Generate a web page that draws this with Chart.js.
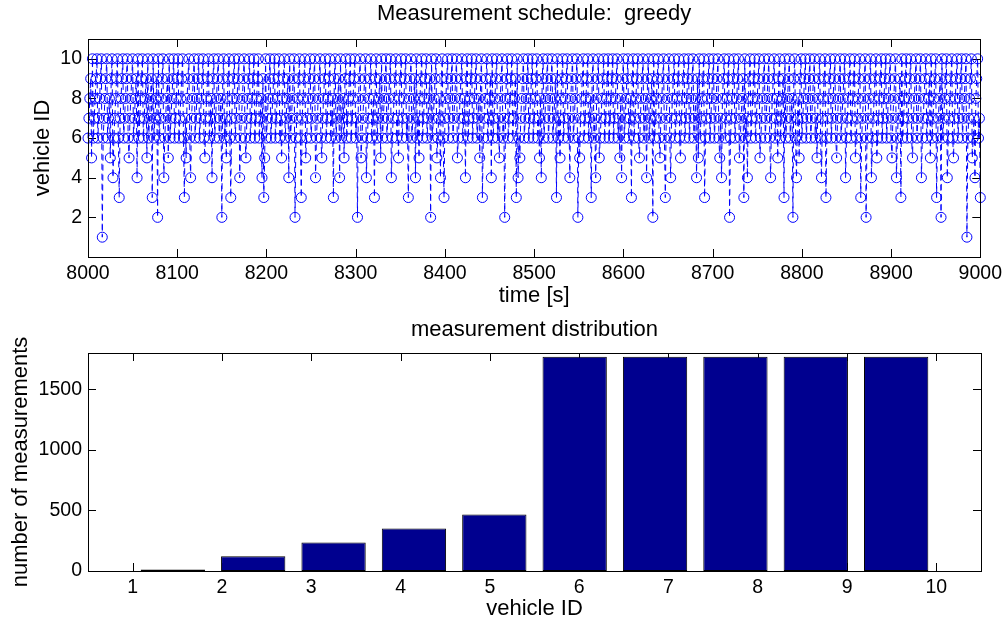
<!DOCTYPE html>
<html>
<head>
<meta charset="utf-8">
<script src="https://cdn.jsdelivr.net/npm/chart.js@4.4.1/dist/chart.umd.min.js"></script>
<style>
    html, body { margin: 0; padding: 0; background: #fff; }
    #wrap { position: relative; width: 1007px; height: 626px; }
    canvas { position: absolute; left: 0; }
    #schedule { top: 0; }
    #distribution { top: 313px; }
</style>
</head>
<body>
<div id="wrap">
    <canvas id="schedule" width="1007" height="313"></canvas>
    <canvas id="distribution" width="1007" height="313"></canvas>
</div>
<script>
Chart.defaults.font.family = "'Liberation Sans', Arial, Helvetica, sans-serif";
Chart.defaults.color = '#000';

// ---- top plot: who was measured at each second ----
const timeStart = 8000;
const timeEnd = 9000;
const timeTicks = [8000, 8100, 8200, 8300, 8400, 8500, 8600, 8700, 8800, 8900, 9000];
const idTicks = [2, 4, 6, 8, 10];

const times1 = [8016, 8985];
const times2 = [8078, 8150, 8232, 8302, 8384, 8467, 8549, 8633, 8719, 8790, 8872, 8956];
const times3 = [8035, 8072, 8108, 8160, 8197, 8239, 8275, 8321, 8359, 8399, 8442, 8480,
                8525, 8564, 8609, 8647, 8691, 8735, 8780, 8827, 8866, 8911, 8951, 9000];
const times4 = [8028, 8055, 8085, 8115, 8139, 8170, 8195, 8225, 8255, 8282, 8312, 8340,
                8367, 8395, 8423, 8452, 8482, 8508, 8540, 8569, 8598, 8626, 8653, 8682,
                8710, 8739, 8765, 8794, 8822, 8849, 8878, 8906, 8934, 8963, 8994];
const times5 = [8004, 8025, 8046, 8066, 8090, 8110, 8131, 8155, 8177, 8198, 8217, 8244,
                8262, 8287, 8306, 8328, 8348, 8371, 8391, 8414, 8439, 8461, 8484, 8506,
                8529, 8551, 8573, 8596, 8618, 8641, 8664, 8684, 8708, 8730, 8753, 8773,
                8797, 8817, 8839, 8860, 8884, 8901, 8924, 8944, 8970, 8991];
// the five busy vehicles take turns in all the other seconds
const busyOrder = [6, 7, 8, 9, 10];

// ---- bottom plot: hist of the whole run ----
const vehicleIds = [1, 2, 3, 4, 5, 6, 7, 8, 9, 10];
const binCenters = [1.45, 2.35, 3.25, 4.15, 5.05, 5.95, 6.85, 7.75, 8.65, 9.55];
const measurementCounts = [12, 122, 235, 351, 466, 1769, 1769, 1769, 1769, 1769];
const countTicks = [0, 500, 1000, 1500];

let rareAt = {};
[times1, times2, times3, times4, times5].forEach((list, i) => {
    list.forEach(t => { rareAt[t] = i + 1; });
});

let schedule = [];
let turn = 0;
for (let t = timeStart; t <= timeEnd; t++) {
    let id = rareAt[t];
    if (id === undefined) {
        id = busyOrder[turn % busyOrder.length];
        turn++;
    }
    schedule.push({ x: t, y: id });
}

// matlab look: closed box, ticks pointing inwards on all four sides
const matlabAxes = {
    id: 'matlabAxes',
    beforeDatasetsDraw(chart) {
        const { ctx, chartArea: a, scales } = chart;
        ctx.save();
        ctx.strokeStyle = '#000';
        ctx.lineWidth = 1;
        ctx.beginPath();
        scales.x.ticks.forEach(tk => {
            const px = Math.round(scales.x.getPixelForValue(tk.value)) + 0.5;
            ctx.moveTo(px, a.bottom);
            ctx.lineTo(px, a.bottom - 8);
            ctx.moveTo(px, a.top);
            ctx.lineTo(px, a.top + 8);
        });
        scales.y.ticks.forEach(tk => {
            const py = Math.round(scales.y.getPixelForValue(tk.value)) + 0.5;
            ctx.moveTo(a.left, py);
            ctx.lineTo(a.left + 8, py);
            ctx.moveTo(a.right, py);
            ctx.lineTo(a.right - 8, py);
        });
        ctx.stroke();
        ctx.restore();
    },
    afterDatasetsDraw(chart) {
        const { ctx, chartArea: a } = chart;
        ctx.save();
        ctx.strokeStyle = '#000';
        ctx.lineWidth = 1;
        ctx.strokeRect(Math.round(a.left) + 0.5, Math.round(a.top) + 0.5,
            Math.round(a.right - a.left), Math.round(a.bottom - a.top));
        ctx.restore();
    }
};

function fixedTicks(values) {
    return axis => { axis.ticks = values.map(v => ({ value: v })); };
}
const plainLabel = v => String(v);   // no thousands separator

const titleFont = { size: 22, weight: 'normal' };
const tickFont = { size: 19.5 };

new Chart(document.getElementById('schedule'), {
    type: 'scatter',
    data: {
        datasets: [{
            data: schedule,
            showLine: true,
            borderColor: '#0000ff',
            borderWidth: 1,
            borderDash: [6, 4],
            pointRadius: 5,
            pointBorderWidth: 1,
            pointBorderColor: '#0000ff',
            pointBackgroundColor: 'rgba(0,0,0,0)',
            clip: false
        }]
    },
    options: {
        responsive: false,
        animation: false,
        events: [],
        layout: { padding: { left: 0, right: 26, top: 0, bottom: 0 } },
        plugins: {
            legend: { display: false },
            tooltip: { enabled: false },
            title: {
                display: true,
                text: 'Measurement schedule:  greedy',
                fullSize: false,
                color: '#000',
                font: titleFont,
                padding: { top: 0.8, bottom: 11.8 }
            }
        },
        scales: {
            x: {
                type: 'linear',
                min: timeStart,
                max: timeEnd,
                afterBuildTicks: fixedTicks(timeTicks),
                afterFit: s => { s.height = 56; },
                grid: { display: false, drawTicks: false },
                border: { display: false },
                ticks: { font: tickFont, padding: 5, maxRotation: 0, autoSkip: false, callback: plainLabel },
                title: { display: true, text: 'time [s]', font: titleFont, padding: { top: 0, bottom: 3.8 } }
            },
            y: {
                min: 0,
                max: 11,
                afterBuildTicks: fixedTicks(idTicks),
                afterFit: s => { s.width = 88; },
                grid: { display: false, drawTicks: false },
                border: { display: false },
                ticks: { font: tickFont, padding: 6, callback: plainLabel },
                title: { display: true, text: 'vehicle ID', font: titleFont, padding: { top: 30, bottom: 0 } }
            }
        }
    },
    plugins: [matlabAxes]
});

new Chart(document.getElementById('distribution'), {
    type: 'bar',
    data: {
        datasets: [{
            data: binCenters.map((c, i) => ({ x: c, y: measurementCounts[i] })),
            backgroundColor: '#00008f',
            borderColor: '#000',
            borderWidth: 1,
            borderSkipped: false,
            barPercentage: 0.8,
            categoryPercentage: 1
        }]
    },
    options: {
        responsive: false,
        animation: false,
        events: [],
        layout: { padding: { left: 0, right: 26, top: 0, bottom: 0 } },
        plugins: {
            legend: { display: false },
            tooltip: { enabled: false },
            title: {
                display: true,
                text: 'measurement distribution',
                fullSize: false,
                color: '#000',
                font: titleFont,
                padding: { top: 3.8, bottom: 9.8 }
            }
        },
        scales: {
            x: {
                type: 'linear',
                min: 0.5,
                max: 10.5,
                offset: false,
                afterBuildTicks: fixedTicks(vehicleIds),
                afterFit: s => { s.height = 55; },
                grid: { display: false, drawTicks: false, offset: false },
                border: { display: false },
                ticks: { font: tickFont, padding: 5, maxRotation: 0, autoSkip: false, callback: plainLabel },
                title: { display: true, text: 'vehicle ID', font: titleFont, padding: { top: 0, bottom: 3.8 } }
            },
            y: {
                min: 0,
                max: 1800,
                afterBuildTicks: fixedTicks(countTicks),
                afterFit: s => { s.width = 88; },
                grid: { display: false, drawTicks: false },
                border: { display: false },
                ticks: { font: tickFont, padding: 6, callback: plainLabel },
                title: { display: true, text: 'number of measurements', font: titleFont, padding: { top: 7.6, bottom: 0 } }
            }
        }
    },
    plugins: [matlabAxes]
});
</script>
</body>
</html>
